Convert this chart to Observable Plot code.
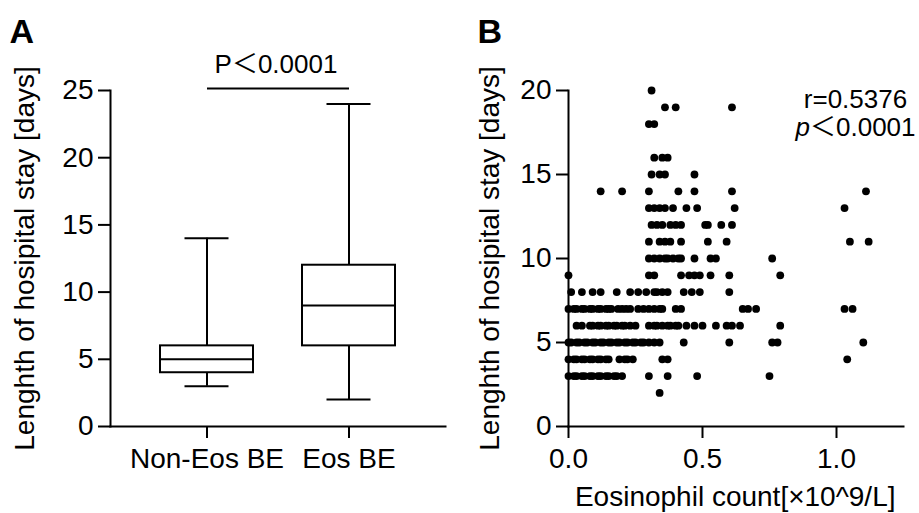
<!DOCTYPE html>
<html><head><meta charset="utf-8">
<script src="https://cdn.jsdelivr.net/npm/d3@7"></script>
<script src="https://cdn.jsdelivr.net/npm/@observablehq/plot@0.6"></script>
<style>
body{margin:0;background:#fff;}
#wrap{position:relative;width:919px;height:513px;overflow:hidden;background:#fff;}
.panel{position:absolute;top:0;}
</style></head><body>
<div id="wrap"><div id="pa" class="panel" style="left:0"></div><div id="pb" class="panel" style="left:460px"></div></div>
<script>
// Panel A: box plot summary
const groups = ["Non-Eos BE", "Eos BE"];
const whiskerLow = [3, 2];
const q1 = [4, 6];
const median = [5, 9];
const q3 = [6, 12];
const whiskerHigh = [14, 24];
const boxTicks = [0, 5, 10, 15, 20, 25];
const sigBarY = 25.15;
const pTextA = "P＜0.0001";

// Panel B: scatter (length of stay rows -> eosinophil counts)
const stayDays = [20, 19, 18, 16, 15, 14, 13, 12, 11, 10, 9, 8, 7, 6, 5, 4, 3, 2];
const eosByStay = [
  [0.31],
  [0.36, 0.40, 0.61],
  [0.30, 0.32],
  [0.32, 0.35, 0.37],
  [0.31, 0.34, 0.36, 0.47],
  [0.12, 0.20, 0.30, 0.41, 0.47, 0.61, 1.11],
  [0.30, 0.32, 0.34, 0.36, 0.39, 0.44, 0.48, 0.62, 1.03],
  [0.31, 0.33, 0.35, 0.38, 0.40, 0.42, 0.51, 0.52, 0.57, 0.61],
  [0.30, 0.34, 0.36, 0.38, 0.42, 0.52, 0.59, 1.05, 1.12],
  [0.30, 0.32, 0.34, 0.36, 0.37, 0.39, 0.41, 0.42, 0.47, 0.53, 0.55, 0.76],
  [0.00, 0.30, 0.32, 0.42, 0.45, 0.47, 0.49, 0.53, 0.60, 0.79],
  [0.01, 0.05, 0.09, 0.12, 0.18, 0.23, 0.26, 0.29, 0.32, 0.33, 0.35, 0.37, 0.43, 0.46, 0.49, 0.60],
  [0.00, 0.02, 0.03, 0.05, 0.06, 0.08, 0.09, 0.11, 0.12, 0.14, 0.15, 0.16, 0.185, 0.20, 0.215, 0.23, 0.26, 0.28, 0.30, 0.32, 0.34, 0.35, 0.40, 0.42, 0.65, 0.67, 0.70, 1.03, 1.06],
  [0.03, 0.05, 0.08, 0.09, 0.11, 0.12, 0.14, 0.15, 0.17, 0.18, 0.20, 0.21, 0.23, 0.25, 0.30, 0.32, 0.33, 0.35, 0.37, 0.38, 0.40, 0.41, 0.44, 0.47, 0.50, 0.55, 0.59, 0.61, 0.64, 0.79],
  [0.00, 0.01, 0.03, 0.04, 0.06, 0.07, 0.09, 0.10, 0.12, 0.13, 0.15, 0.16, 0.18, 0.19, 0.21, 0.22, 0.24, 0.25, 0.27, 0.28, 0.30, 0.32, 0.34, 0.43, 0.60, 0.76, 0.78, 1.10],
  [0.00, 0.02, 0.03, 0.05, 0.06, 0.08, 0.09, 0.11, 0.12, 0.14, 0.15, 0.19, 0.21, 0.22, 0.24, 0.35, 0.37, 1.04],
  [0.00, 0.02, 0.03, 0.05, 0.06, 0.08, 0.09, 0.11, 0.12, 0.14, 0.15, 0.17, 0.18, 0.20, 0.30, 0.37, 0.48, 0.75],
  [0.34]
];
const scatterXTicks = [0, 0.5, 1.0];
const scatterYTicks = [0, 5, 10, 15, 20];
const rText = "r=0.5376";
const pTextB = "＜0.0001";
const yLabel = "Lenghth of hosipital stay [days]";
const xLabelB = "Eosinophil count[×10^9/L]";

const FONT = "'Liberation Sans', Arial, 'Noto Sans CJK SC', sans-serif";
const FS = 28;   // axis text
const FA = 26;   // annotations
const FL = 34;   // panel letters
const baseStyle = {fontSize: FS + "px", fontFamily: FONT, color: "black", background: "white", overflow: "visible"};

const boxes = groups.map((g, i) => ({g, lo: whiskerLow[i], q1: q1[i], med: median[i], q3: q3[i], hi: whiskerHigh[i]}));

const chartA = Plot.plot({
  width: 460, height: 513,
  marginLeft: 110, marginRight: 15, marginTop: 90, marginBottom: 87,
  style: baseStyle,
  x: {type: "band", domain: groups, padding: 0.343},
  y: {domain: [0, 25]},
  marks: [
    Plot.axisY({ticks: boxTicks, tickSize: 12, tickPadding: 5, strokeWidth: 2, label: null, fontSize: FS}),
    Plot.axisX({tickSize: 12, tickPadding: 10, strokeWidth: 2, label: null, fontSize: FS}),
    Plot.frame({anchor: "left", strokeWidth: 2}),
    Plot.frame({anchor: "bottom", strokeWidth: 2}),
    Plot.ruleX(boxes, {x: "g", y1: "lo", y2: "hi", stroke: "black", strokeWidth: 2}),
    Plot.barY(boxes, {x: "g", y1: "q1", y2: "q3", fill: "white", stroke: "black", strokeWidth: 2}),
    Plot.tickY(boxes, {x: "g", y: "med", stroke: "black", strokeWidth: 2}),
    Plot.tickY(boxes, {x: "g", y: "lo", stroke: "black", strokeWidth: 2, insetLeft: 24.5, insetRight: 24.5}),
    Plot.tickY(boxes, {x: "g", y: "hi", stroke: "black", strokeWidth: 2, insetLeft: 24.5, insetRight: 24.5}),
    Plot.link([0], {x1: () => groups[0], x2: () => groups[1], y1: () => sigBarY, y2: () => sigBarY, stroke: "black", strokeWidth: 2}),
    Plot.text([pTextA], {frameAnchor: "top", dx: -2, dy: -18, lineAnchor: "bottom", textAnchor: "middle", fontSize: FA, fill: "black"}),
    Plot.text(["A"], {frameAnchor: "top-left", dx: -101, dy: -48, lineAnchor: "bottom", textAnchor: "start", fontSize: FL, fontWeight: "bold", fill: "black"}),
    Plot.text([yLabel], {frameAnchor: "left", dx: -85, rotate: -90, lineAnchor: "middle", textAnchor: "middle", fontSize: FS, fill: "black"})
  ]
});
document.getElementById("pa").appendChild(chartA);

const points = stayDays.flatMap((d, i) => eosByStay[i].map(e => ({eos: e, days: d})));

const chartB = Plot.plot({
  width: 459, height: 513,
  marginLeft: 108, marginRight: 16, marginTop: 90, marginBottom: 87,
  style: baseStyle,
  x: {domain: [0, 1.25]},
  y: {domain: [0, 20]},
  marks: [
    Plot.axisY({ticks: scatterYTicks, tickSize: 12, tickPadding: 5, strokeWidth: 2, label: null, fontSize: FS}),
    Plot.axisX({ticks: scatterXTicks, tickFormat: d3.format(".1f"), tickSize: 12, tickPadding: 10, strokeWidth: 2, label: null, fontSize: FS}),
    Plot.frame({anchor: "left", strokeWidth: 2}),
    Plot.frame({anchor: "bottom", strokeWidth: 2}),
    Plot.dot(points, {x: "eos", y: "days", r: 3.9, fill: "black", stroke: "none"}),
    Plot.text([rText], {frameAnchor: "top-right", dx: -48, dy: 17, lineAnchor: "bottom", textAnchor: "middle", fontSize: FA, fill: "black"}),
    Plot.text(["p"], {frameAnchor: "top-right", dx: -108, dy: 45, lineAnchor: "bottom", textAnchor: "start", fontSize: FA, fontStyle: "italic", fill: "black"}),
    Plot.text([pTextB], {frameAnchor: "top-right", dx: -93.5, dy: 45, lineAnchor: "bottom", textAnchor: "start", fontSize: FA, fill: "black"}),
    Plot.text(["B"], {frameAnchor: "top-left", dx: -91, dy: -48, lineAnchor: "bottom", textAnchor: "start", fontSize: FL, fontWeight: "bold", fill: "black"}),
    Plot.text([yLabel], {frameAnchor: "left", dx: -78, rotate: -90, lineAnchor: "middle", textAnchor: "middle", fontSize: FS, fill: "black"}),
    Plot.text([xLabelB], {frameAnchor: "bottom-right", dx: -8, dy: 79, lineAnchor: "bottom", textAnchor: "end", fontSize: FS, fill: "black"})
  ]
});
document.getElementById("pb").appendChild(chartB);
</script>
</body></html>
